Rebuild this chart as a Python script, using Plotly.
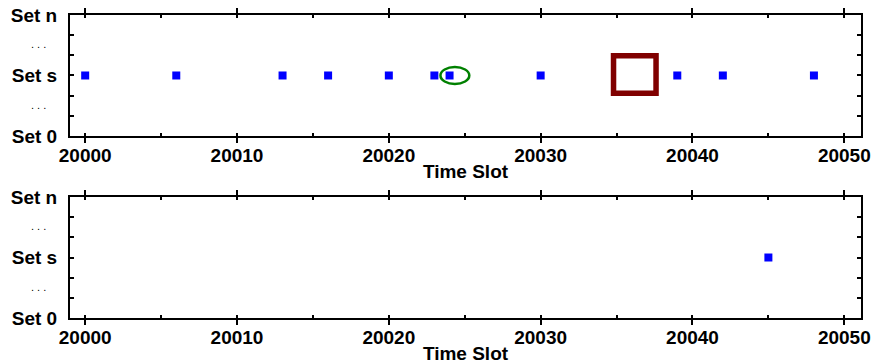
import plotly.graph_objects as go

# ---- data ----
top_slots = [20000, 20006, 20013, 20016, 20020, 20023, 20024, 20030, 20039, 20042, 20048]
top_sets = [3] * len(top_slots)
bottom_slots = [20045]
bottom_sets = [3]

set_tickvals = [0, 1, 2, 3, 4, 5, 6]
set_ticktext = ["Set 0", "", "", "Set s", "", "", "Set n"]
dots_positions = [1.5, 4.5]
time_ticks = [20000, 20010, 20020, 20030, 20040, 20050]
time_labels = ["20000", "20010", "20020", "20030", "20040", "20050"]

# highlight shapes (top panel)
ellipse_x = [20023.4, 20025.3]
ellipse_y = [2.58, 3.42]
rect_x = [20034.8, 20037.6]
rect_y = [2.12, 3.98]

x_range = [19999.0, 20051.1]
y_range = [0, 6]

FONT = "Liberation Sans, Arial, sans-serif"

fig = go.Figure()
fig.add_trace(go.Scatter(x=top_slots, y=top_sets, mode="markers",
                         marker=dict(symbol="square", size=8, color="#0000FF"),
                         xaxis="x", yaxis="y", showlegend=False))
fig.add_trace(go.Scatter(x=bottom_slots, y=bottom_sets, mode="markers",
                         marker=dict(symbol="square", size=8, color="#0000FF"),
                         xaxis="x2", yaxis="y2", showlegend=False))

tickfont = dict(family=FONT, size=19, color="black", weight="bold")

def xaxis(anchor):
    return dict(anchor=anchor, range=x_range, tickvals=time_ticks, ticktext=time_labels,
                ticks="outside", ticklen=5, tickwidth=2, tickcolor="black",
                minor=dict(dtick=5, ticks="inside", ticklen=3, tickwidth=1.5, tickcolor="black"),
                showline=True, linecolor="black", linewidth=2, mirror="ticks",
                showgrid=False, zeroline=False, tickfont=tickfont, automargin=False,
                ticklabelstandoff=-4,
                title=dict(text="Time Slot", font=tickfont, standoff=0))

def yaxis(anchor, domain):
    return dict(anchor=anchor, domain=domain, range=y_range,
                tickvals=set_tickvals, ticktext=set_ticktext,
                ticks="inside", ticklen=4, tickwidth=2, tickcolor="black",
                showline=True, linecolor="black", linewidth=2, mirror="ticks",
                showgrid=False, zeroline=False, tickfont=tickfont, automargin=False,
                ticklabelstandoff=7)

fig.update_layout(
    width=873, height=364,
    margin=dict(l=70, r=12, t=15, b=46),
    plot_bgcolor="white", paper_bgcolor="white",
    xaxis=xaxis("y"),
    yaxis=yaxis("x", [0.6007, 1.0]),
    xaxis2=xaxis("y2"),
    yaxis2=yaxis("x2", [0.0, 0.3993]),
)

annotations = []
for yref in ["y", "y2"]:
    for yp in dots_positions:
        annotations.append(dict(x=0, xref="paper", y=yp, yref=yref, text=". . .",
                                showarrow=False, xanchor="right", yanchor="middle",
                                xshift=-22, yshift=1,
                                font=dict(family=FONT, size=11, color="black")))
fig.update_layout(annotations=annotations)

fig.add_shape(type="circle", xref="x", yref="y",
              x0=ellipse_x[0], x1=ellipse_x[1], y0=ellipse_y[0], y1=ellipse_y[1],
              line=dict(color="#008000", width=2.5))
fig.add_shape(type="rect", xref="x", yref="y",
              x0=rect_x[0], x1=rect_x[1], y0=rect_y[0], y1=rect_y[1],
              line=dict(color="#800000", width=5.5))

fig.write_html("out.html")
